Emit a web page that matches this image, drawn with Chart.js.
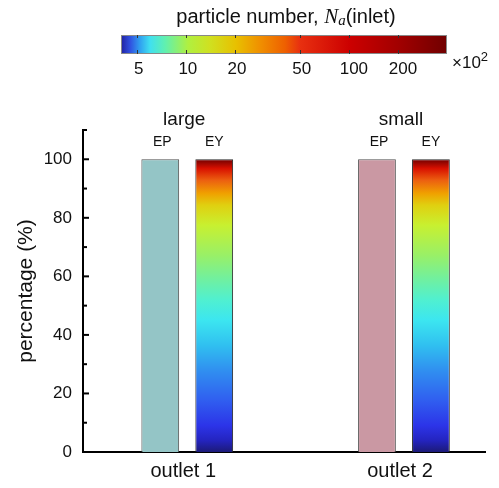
<!DOCTYPE html>
<html lang="en">
<head>
  <meta charset="UTF-8">
  <title>Particle number percentage by outlet</title>
  <script src="https://cdn.jsdelivr.net/npm/chart.js"></script>
<style>
  body { margin: 0; background: #fff; }
  .chart-box { width: 499px; height: 488px; }
</style>
</head>
<body>
  <div class="chart-box"><canvas id="outletChart"></canvas></div>
  <script>
    // Data
    const categories = ['outlet 1', 'outlet 2'];
    const categoryPos = [1, 2];
    const groupNames = ['large', 'small'];
    const seriesNames = ['EP', 'EY'];
    const epValues = [100, 100];
    const eyValues = [100, 100];
    const yTicks = [0, 20, 40, 60, 80, 100];

    // Colour bar (particle number, x10^2, log scale)
    const cbTicks = [5, 10, 20, 50, 100, 200];
    const cbRange = [4, 400];

    // colour stops for the bar gradient (fraction from bottom)
    const eyStops = [
      [0.00, '#1c1a78'], [0.04, '#2424c0'], [0.09, '#2c34e8'], [0.18, '#3060f0'],
      [0.28, '#3090f0'], [0.365, '#30c0f0'], [0.45, '#3ce6f0'], [0.52, '#50f0d0'],
      [0.59, '#70f0a0'], [0.67, '#98f068'], [0.775, '#c8f030'], [0.843, '#e0d010'],
      [0.884, '#f0a000'], [0.928, '#ec6010'], [0.969, '#d81000'], [1.00, '#700000']
    ];
    // colour stops for the colour bar (fraction from left)
    const cbStops = [
      [0.00, '#2020a0'], [0.028, '#3050e0'], [0.058, '#30a0f0'], [0.089, '#40e0f0'],
      [0.135, '#60f0b0'], [0.206, '#b0f040'], [0.273, '#d0e020'], [0.353, '#e8c000'],
      [0.426, '#f09000'], [0.503, '#ee6000'], [0.549, '#e83010'], [0.702, '#cc0000'],
      [0.856, '#a00000'], [1.00, '#700000']
    ];

    const FONT = '"Liberation Sans", Arial, sans-serif';
    const SERIF = '"Liberation Serif", "Times New Roman", serif';

    function eyGradient(context) {
      const chart = context.chart;
      const y = chart.scales.y;
      if (!chart.chartArea || !y) return '#888';
      const g = chart.ctx.createLinearGradient(0, y.getPixelForValue(0), 0, y.getPixelForValue(100));
      eyStops.forEach(s => g.addColorStop(s[0], s[1]));
      return g;
    }

    // inner tick marks on the y axis (major every 20, minor every 10)
    const innerTicks = {
      id: 'innerTicks',
      afterDraw(chart) {
        const ctx = chart.ctx, y = chart.scales.y;
        const x0 = chart.chartArea.left;
        ctx.save();
        ctx.strokeStyle = '#000';
        ctx.lineWidth = 2;
        for (let v = 0; v <= 110; v += 10) {
          const py = y.getPixelForValue(v);
          const len = v % 20 === 0 ? 6 : 4;
          ctx.beginPath();
          ctx.moveTo(x0, py);
          ctx.lineTo(x0 + len, py);
          ctx.stroke();
        }
        ctx.restore();
      }
    };

    // group and series labels above the bars
    const barLabels = {
      id: 'barLabels',
      afterDraw(chart) {
        const ctx = chart.ctx;
        const m0 = chart.getDatasetMeta(0).data;
        const m1 = chart.getDatasetMeta(1).data;
        ctx.save();
        ctx.fillStyle = '#111';
        ctx.textAlign = 'center';
        ctx.textBaseline = 'middle';
        categories.forEach((c, i) => {
          const top = Math.min(m0[i].y, m1[i].y);
          ctx.font = '19px ' + FONT;
          ctx.fillText(groupNames[i], (m0[i].x + m1[i].x) / 2 - 3, top - 40);
          ctx.font = '14px ' + FONT;
          ctx.fillText(seriesNames[0], m0[i].x + 2, top - 17);
          ctx.fillText(seriesNames[1], m1[i].x, top - 17);
        });
        ctx.restore();
      }
    };

    // colour bar legend at the top
    const colorBar = {
      id: 'colorBar',
      afterDraw(chart) {
        const ctx = chart.ctx;
        const left = 121, right = 447, top = 35, bottom = 54;
        const lmin = Math.log10(cbRange[0]), lmax = Math.log10(cbRange[1]);
        const px = v => left + (Math.log10(v) - lmin) / (lmax - lmin) * (right - left);
        ctx.save();
        const g = ctx.createLinearGradient(left, 0, right, 0);
        cbStops.forEach(s => g.addColorStop(s[0], s[1]));
        ctx.fillStyle = g;
        ctx.fillRect(left, top, right - left, bottom - top);
        ctx.strokeStyle = '#888';
        ctx.lineWidth = 1;
        ctx.strokeRect(left + 0.5, top + 0.5, right - left - 1, bottom - top - 1);
        // ticks
        ctx.strokeStyle = '#333';
        cbTicks.forEach(v => {
          const x = Math.round(px(v)) + 0.5;
          ctx.beginPath();
          ctx.moveTo(x, top); ctx.lineTo(x, top + 3);
          ctx.moveTo(x, bottom); ctx.lineTo(x, bottom - 4);
          ctx.stroke();
        });
        // tick labels
        ctx.fillStyle = '#111';
        ctx.font = '17px ' + FONT;
        ctx.textAlign = 'center';
        ctx.textBaseline = 'middle';
        cbTicks.forEach(v => ctx.fillText(String(v), px(v) + 2 + (v >= 100 ? 3 : 0), 69));
        // x10^2
        ctx.textAlign = 'left';
        ctx.font = '17px ' + FONT;
        ctx.fillText('\u00d710', 452, 63);
        const w = ctx.measureText('\u00d710').width;
        ctx.font = '13px ' + FONT;
        ctx.fillText('2', 452 + w, 57);
        // title
        const parts = [
          { t: 'particle number, ', f: '20px ' + FONT, dy: 0 },
          { t: 'N', f: 'italic 21px ' + SERIF, dy: 0 },
          { t: 'a', f: 'italic 15px ' + SERIF, dy: 4 },
          { t: '(inlet)', f: '20px ' + FONT, dy: 0 }
        ];
        let total = 0;
        parts.forEach(p => { ctx.font = p.f; p.w = ctx.measureText(p.t).width; total += p.w; });
        let x = 286 - total / 2;
        parts.forEach(p => { ctx.font = p.f; ctx.fillText(p.t, x, 17 + p.dy); x += p.w; });
        ctx.restore();
      }
    };

    new Chart(document.getElementById('outletChart'), {
      type: 'bar',
      data: {
        datasets: [
          {
            label: seriesNames[0],
            data: categoryPos.map((p, i) => ({ x: p, y: epValues[i] })),
            backgroundColor: ['#94c5c6', '#ca98a3'],
            borderColor: '#505050',
            borderWidth: 1
          },
          {
            label: seriesNames[1],
            data: categoryPos.map((p, i) => ({ x: p, y: eyValues[i] })),
            backgroundColor: eyGradient,
            borderColor: '#2a2a2a',
            borderWidth: 1
          }
        ]
      },
      options: {
        responsive: true,
        maintainAspectRatio: false,
        animation: false,
        categoryPercentage: 0.498,
        barPercentage: 0.70,
        layout: { padding: { top: 130, right: 14, bottom: 0, left: 0 } },
        plugins: {
          legend: { display: false },
          tooltip: { enabled: false }
        },
        scales: {
          x: {
            type: 'linear',
            offset: false,
            min: 0.519,
            max: 2.374,
            afterBuildTicks: scale => { scale.ticks = categoryPos.map(v => ({ value: v })); },
            afterFit: scale => { scale.height = 36; },
            ticks: {
              callback: v => categories[categoryPos.indexOf(v)] || '',
              color: '#111',
              font: { family: FONT, size: 20 },
              padding: 7,
              labelOffset: -4,
              maxRotation: 0
            },
            grid: { display: false, drawTicks: false, offset: false },
            border: { display: true, color: '#000', width: 2 }
          },
          y: {
            min: 0,
            max: 110,
            afterBuildTicks: scale => { scale.ticks = yTicks.map(v => ({ value: v })); },
            afterFit: scale => { scale.width = 83; },
            ticks: {
              color: '#111',
              font: { family: FONT, size: 17 },
              padding: 11
            },
            grid: { display: false, drawTicks: false },
            border: { display: true, color: '#000', width: 2 },
            title: {
              display: true,
              text: 'percentage (%)',
              color: '#111',
              font: { family: FONT, size: 21 },
              padding: { top: 14, bottom: 0 }
            }
          }
        }
      },
      plugins: [innerTicks, barLabels, colorBar]
    });
  </script>
</body>
</html>
